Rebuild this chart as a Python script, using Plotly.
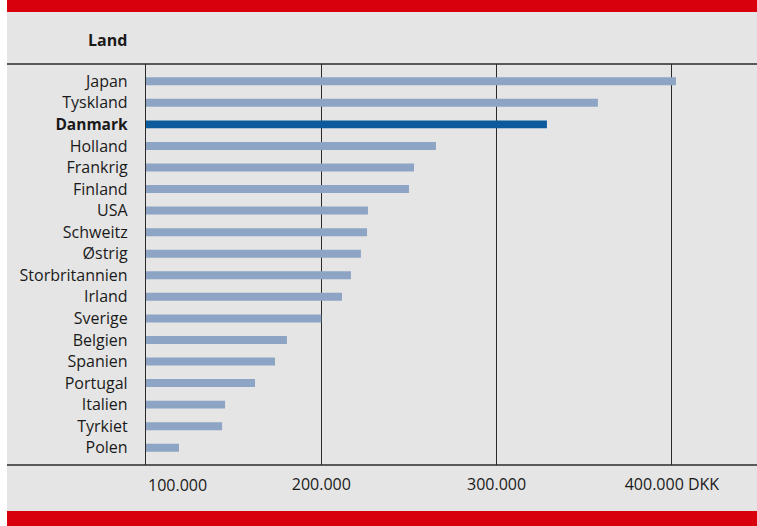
import plotly.graph_objects as go

# Average salary by country (DKK), sorted top to bottom
lande = ["Japan", "Tyskland", "Danmark", "Holland", "Frankrig", "Finland", "USA",
         "Schweitz", "Østrig", "Storbritannien", "Irland", "Sverige", "Belgien",
         "Spanien", "Portugal", "Italien", "Tyrkiet", "Polen"]
loen = [402300, 357800, 328700, 265400, 252900, 250000, 226600, 226100, 222600,
        216900, 211800, 200000, 180400, 173600, 162200, 145100, 143400, 118800]
fremhaev = "Danmark"

x_ticks = [200000, 300000, 400000]
x_ticktext = ["200.000", "300.000", "400.000 DKK"]
first_tick = 100000
first_ticktext = "100.000"

W, H = 757, 526
L, R, T, B = 146, 0, 64, 61
pw, ph = W - L - R, H - T - B

def px_x(p):
    return (p - L) / pw

def px_y(p):
    return (H - B - p) / ph

FONT = "Open Sans"
GRAY = "#e5e5e5"
RED = "#d9000d"
LINE = "#2a2a2a"

colors = ["#0a5a9c" if l == fremhaev else "#8da4c4" for l in lande]
ticktext = [f"<b><span style='font-size:15.5px'>{l}</span></b>" if l == fremhaev else l
            for l in lande]

fig = go.Figure(go.Bar(
    y=lande, x=loen, orientation="h", width=0.37,
    marker=dict(color=colors, line=dict(width=0)),
))

x_max = first_tick + (pw / 175.3) * 100000

fig.update_layout(
    width=W, height=H,
    margin=dict(l=L, r=R, t=T, b=B, pad=0),
    paper_bgcolor="white", plot_bgcolor=GRAY,
    showlegend=False,
    font=dict(family=FONT, size=16, color="#1a1a1a"),
    xaxis=dict(range=[first_tick, x_max], tickvals=x_ticks, ticktext=x_ticktext,
               showgrid=True, gridcolor=LINE, gridwidth=1.3, zeroline=False,
               showline=False, ticks="", ticklabelstandoff=8,
               tickfont=dict(family=FONT, size=16)),
    yaxis=dict(categoryorder="array", categoryarray=lande, tickvals=lande,
               ticktext=ticktext, range=[17.8, -0.8], showgrid=False,
               zeroline=False, showline=True, linecolor=LINE, linewidth=1.3,
               ticks="", ticklabelstandoff=14,
               tickfont=dict(family=FONT, size=16)),
    shapes=[
        # grey panel
        dict(type="rect", xref="paper", yref="paper", x0=px_x(7), x1=1,
             y0=px_y(511), y1=px_y(12), fillcolor=GRAY, line=dict(width=0),
             layer="below"),
        # red bands
        dict(type="rect", xref="paper", yref="paper", x0=px_x(7), x1=1,
             y0=px_y(12), y1=px_y(0), fillcolor=RED, line=dict(width=0)),
        dict(type="rect", xref="paper", yref="paper", x0=px_x(7), x1=1,
             y0=px_y(526), y1=px_y(511), fillcolor=RED, line=dict(width=0)),
        # header and footer rules
        dict(type="line", xref="paper", yref="paper", x0=px_x(7), x1=1,
             y0=1, y1=1, line=dict(color=LINE, width=1.3)),
        dict(type="line", xref="paper", yref="paper", x0=px_x(7), x1=1,
             y0=0, y1=0, line=dict(color=LINE, width=1.3)),
    ],
    annotations=[
        dict(text="<b>Land</b>", xref="paper", yref="paper", x=px_x(129),
             y=px_y(40), xanchor="right", yanchor="middle", showarrow=False,
             font=dict(family=FONT, size=16)),
        dict(text=first_ticktext, xref="x", yref="paper", x=first_tick,
             y=px_y(485), xanchor="left", yanchor="middle", showarrow=False,
             font=dict(family=FONT, size=16)),
    ],
)

fig.write_html("out.html")
